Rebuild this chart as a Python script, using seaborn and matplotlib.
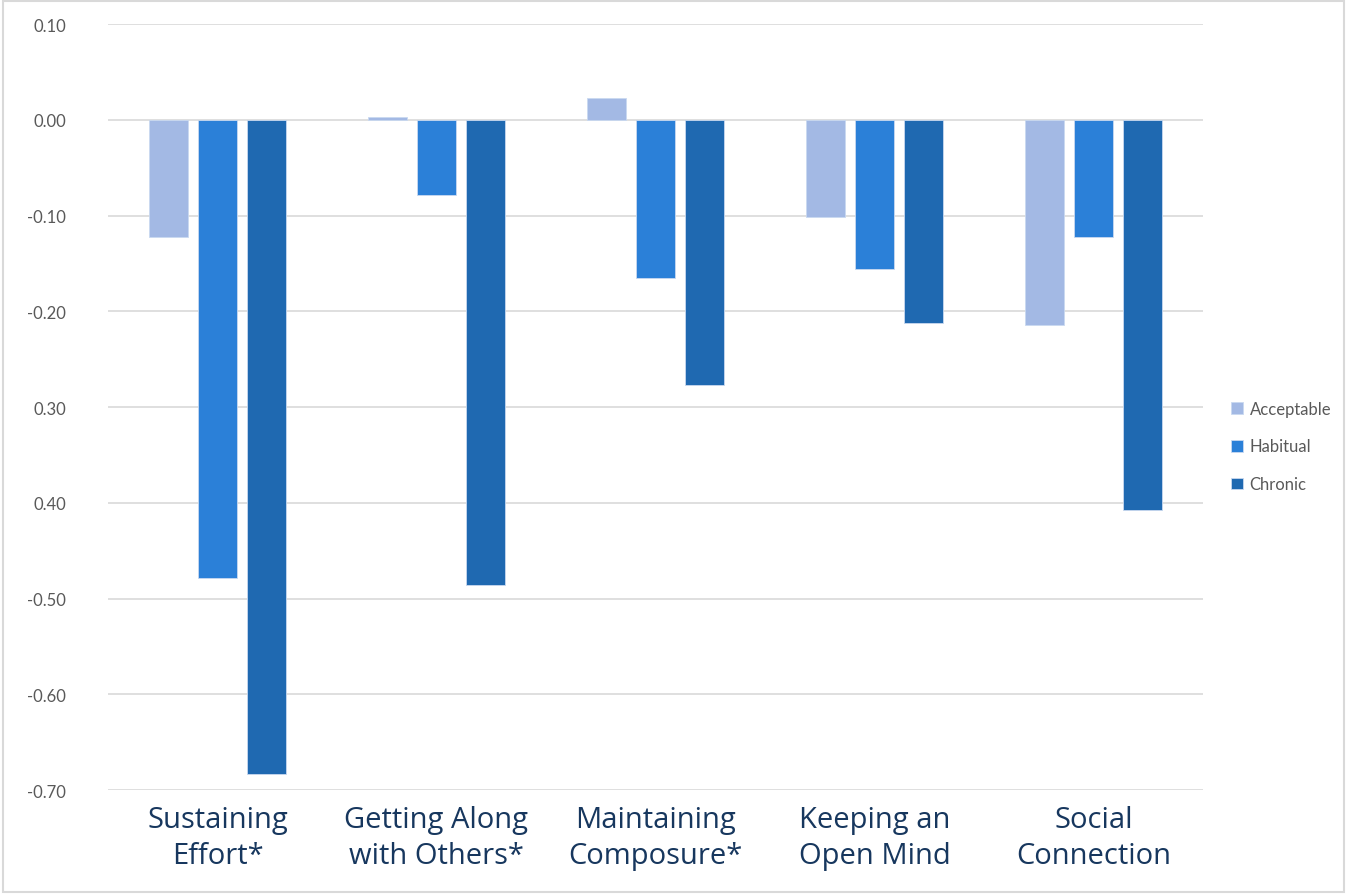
import pandas as pd
import numpy as np
import matplotlib.pyplot as plt
import seaborn as sns

dimensions = ["Sustaining\nEffort*", "Getting Along\nwith Others*", "Maintaining\nComposure*",
              "Keeping an\nOpen Mind", "Social\nConnection"]
levels = ["Acceptable", "Habitual", "Chronic"]
acceptable = [-0.122, 0.003, 0.023, -0.102, -0.214]
habitual = [-0.479, -0.079, -0.165, -0.156, -0.122]
chronic = [-0.683, -0.486, -0.277, -0.212, -0.408]
yticks = [0.10, 0.0, -0.10, -0.20, -0.30, -0.40, -0.50, -0.60, -0.70]
ytick_labels = ["0.10", "0.00", "-0.10", "-0.20", "0.30", "0.40", "-0.50", "-0.60", "-0.70"]
colors = ["#A3B9E4", "#2B80D8", "#1F69B1"]

df = pd.DataFrame({
    "dimension": dimensions * 3,
    "level": [l for l in levels for _ in dimensions],
    "value": acceptable + habitual + chronic,
})

sns.set_style("white")
plt.rcParams["font.family"] = ["Lato", "DejaVu Sans"]

fig = plt.figure(figsize=(13.47, 8.95), dpi=100)
ax = fig.add_axes([0.0802, 0.1162, 0.8128, 0.8558])

sns.barplot(data=df, x="dimension", y="value", hue="level", palette=colors, saturation=1,
            width=0.67, gap=0.2, ax=ax, edgecolor="#C9D9F0", linewidth=0.6, zorder=3)

ax.set_xlim(-0.5, 4.5)
ax.set_ylim(-0.70, 0.10)
ax.set_yticks(yticks)
ax.set_yticklabels(ytick_labels, fontsize=12, color="#595959")
ax.tick_params(axis="y", length=0, pad=30)
ax.tick_params(axis="x", length=0, pad=11)
for t in ax.get_xticklabels():
    t.set_fontsize(21)
    t.set_color("#17375E")
    t.set_linespacing(1.3)
    t.set_family(["Open Sans", "DejaVu Sans"])
ax.set_xlabel("")
ax.set_ylabel("")
ax.grid(axis="y", color="#D9D9D9", linewidth=1.2, zorder=0)
for s in ax.spines.values():
    s.set_visible(False)

ax.legend(title=None, frameon=False, loc="center left", bbox_to_anchor=(0.903, 0.50),
          bbox_transform=fig.transFigure, fontsize=12, labelcolor="#595959",
          handlelength=0.7, handleheight=0.7, handletextpad=0.4, labelspacing=1.3)

fig.add_artist(plt.Rectangle((0.002, 0.002), 0.996, 0.996, transform=fig.transFigure,
                             fill=False, edgecolor="#D9D9D9", linewidth=1.5))

fig.savefig("out.png", dpi=100)
